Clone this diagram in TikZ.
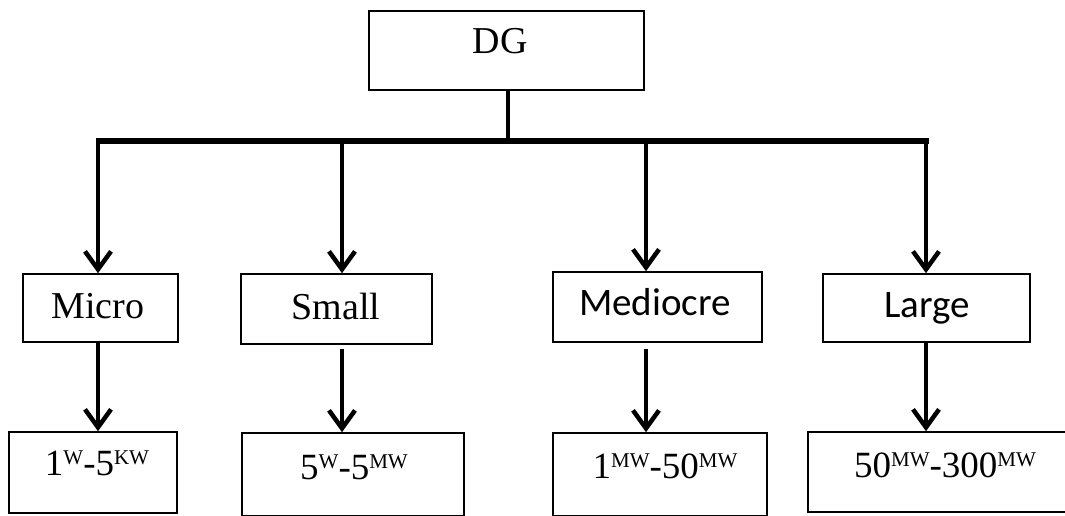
\documentclass[tikz,border=0pt]{standalone}
\usepackage{fontspec}
\setmainfont{Liberation Serif}
\newfontfamily\carlitofont{Carlito}
\usetikzlibrary{arrows.meta}
\newcommand\mysup[1]{\raisebox{11pt}{\fontsize{21}{21}\selectfont #1}}
\begin{document}
\begin{tikzpicture}[x=1pt,y=-1pt,
  box/.style={draw, line width=1.6pt, inner sep=0pt},
  lbl/.style={anchor=base, inner sep=0pt, font=\fontsize{38}{40}\selectfont},
  sanslbl/.style={anchor=base, inner sep=0pt, font=\carlitofont\fontsize{39}{41}\selectfont},
  vallbl/.style={anchor=base, inner sep=0pt, font=\fontsize{37}{40}\selectfont},
  bus/.style={line width=5pt, line cap=rect},
  arr/.style={line width=4.5pt, -{Straight Barb[length=18pt,width=26pt]}}]
\useasboundingbox (0,0) rectangle (1065,516);
% named coordinates
\coordinate (bar) at (0,141);
\coordinate (xs) at (508,0);
\coordinate (x1) at (98,0);
\coordinate (x2) at (342,0);
\coordinate (x3) at (646,0);
\coordinate (x4) at (926,0);
% top box
\node[box, minimum width=275pt, minimum height=79pt] (dg) at (506.5,50.5) {};
\node[lbl] (tdg) at (500,54) {DG};
% middle row
\node[box, minimum width=155pt, minimum height=68pt] (m1) at (100.5,308) {};
\node[box, minimum width=191pt, minimum height=70pt] (m2) at (336.5,309) {};
\node[box, minimum width=209pt, minimum height=70pt] (m3) at (657.5,307) {};
\node[box, minimum width=207pt, minimum height=68pt] (m4) at (926.5,308) {};
\node[lbl] (tm1) at (98,318) {Micro};
\node[lbl] (tm2) at (336,319) {Small};
\node[sanslbl] (tm3) at (655,315) {Mediocre};
\node[sanslbl] (tm4) at (927,317) {Large};
% bottom row
\node[box, minimum width=168pt, minimum height=81pt] (b1) at (93,472.5) {};
\node[box, minimum width=222pt, minimum height=83pt] (b2) at (353,474.5) {};
\node[box, minimum width=214pt, minimum height=83pt] (b3) at (660,474.5) {};
\node[box, minimum width=274pt, minimum height=80pt] (b4) at (945,472) {};
\node[vallbl] (tb1) at (97,475) {1\mysup{W}-5\mysup{KW}};
\node[vallbl] (tb2) at (354,479) {5\mysup{W}-5\mysup{MW}};
\node[vallbl] (tb3) at (665,478) {1\mysup{MW}-50\mysup{MW}};
\node[vallbl] (tb4) at (945,477) {50\mysup{MW}-300\mysup{MW}};
% bus
\draw[line width=4.5pt] (dg.south -| xs) -- (xs |- bar);
\draw[bus] (x1 |- bar) -- (x4 |- bar);
\draw[arr] (x1 |- bar) -- (m1.north -| x1);
\draw[arr] (x2 |- bar) -- (m2.north -| x2);
\draw[arr] (x3 |- bar) -- (m3.north -| x3);
\draw[arr] (x4 |- bar) -- (m4.north -| x4);
% lower arrows
\draw[arr] (m1.south -| x1) -- (b1.north -| x1);
\draw[arr] ([yshift=-4pt]m2.south -| x2) -- (b2.north -| x2);
\draw[arr] ([yshift=-6pt]m3.south -| x3) -- (b3.north -| x3);
\draw[arr] (m4.south -| x4) -- (b4.north -| x4);
\end{tikzpicture}
\end{document}
